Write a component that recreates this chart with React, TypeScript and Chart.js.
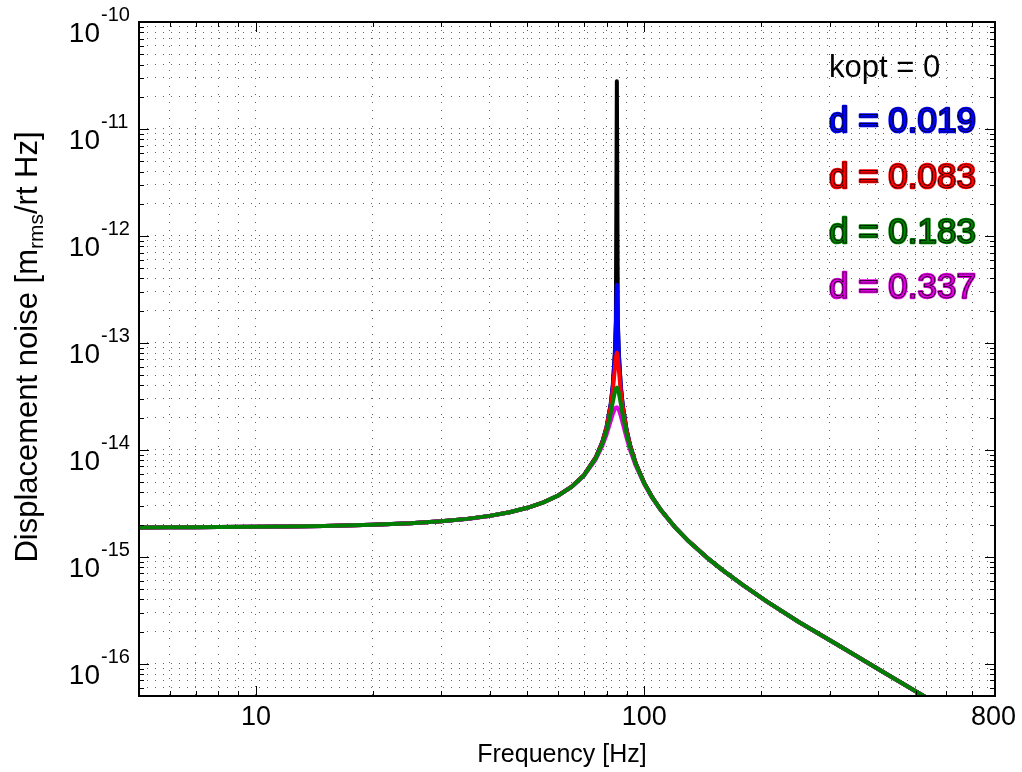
import React, { useEffect, useRef } from 'react';
import { Chart, registerables } from 'chart.js';

Chart.register(...registerables);

// ---- data ----
const frequencies = [5, 6, 7, 8, 10, 12, 15, 20, 25, 30, 35, 40, 45, 50, 55, 60, 65, 70, 75, 78, 80, 82, 83, 84, 84.5, 85, 85.5, 86, 87, 88, 90, 92, 95, 100, 105, 110, 120, 130, 145, 160, 180, 207, 250, 320, 400, 524, 600, 700, 800];

const kopt0 = [1.880e-15, 1.889e-15, 1.893e-15, 1.897e-15, 1.906e-15, 1.918e-15, 1.940e-15, 1.990e-15, 2.058e-15, 2.148e-15, 2.264e-15, 2.415e-15, 2.612e-15, 2.875e-15, 3.234e-15, 3.747e-15, 4.528e-15, 5.842e-15, 8.489e-15, 1.190e-14, 1.646e-14, 2.711e-14, 4.042e-14, 8.038e-14, 1.603e-13, 2.80e-11, 1.593e-13, 7.942e-14, 3.949e-14, 2.617e-14, 1.552e-14, 1.096e-14, 7.546e-15, 4.895e-15, 3.574e-15, 2.786e-15, 1.893e-15, 1.404e-15, 9.84e-16, 7.39e-16, 5.40e-16, 3.81e-16, 2.46e-16, 1.45e-16, 8.95e-17, 5.0e-17, 3.85e-17, 2.81e-17, 2.15e-17];

const d0019 = [1.880e-15, 1.889e-15, 1.893e-15, 1.897e-15, 1.906e-15, 1.918e-15, 1.940e-15, 1.990e-15, 2.058e-15, 2.148e-15, 2.264e-15, 2.415e-15, 2.612e-15, 2.875e-15, 3.234e-15, 3.747e-15, 4.528e-15, 5.842e-15, 8.489e-15, 1.190e-14, 1.646e-14, 2.710e-14, 4.017e-14, 7.84e-14, 1.46e-13, 3.50e-13, 1.45e-13, 7.75e-14, 3.92e-14, 2.615e-14, 1.552e-14, 1.096e-14, 7.546e-15, 4.895e-15, 3.574e-15, 2.786e-15, 1.893e-15, 1.404e-15, 9.84e-16, 7.39e-16, 5.40e-16, 3.81e-16, 2.46e-16, 1.45e-16, 8.95e-17, 5.0e-17, 3.85e-17, 2.81e-17, 2.15e-17];

const d0083 = [1.880e-15, 1.889e-15, 1.893e-15, 1.897e-15, 1.906e-15, 1.918e-15, 1.940e-15, 1.990e-15, 2.058e-15, 2.148e-15, 2.264e-15, 2.415e-15, 2.612e-15, 2.875e-15, 3.233e-15, 3.745e-15, 4.525e-15, 5.83e-15, 8.45e-15, 1.180e-14, 1.62e-14, 2.58e-14, 3.63e-14, 5.73e-14, 7.25e-14, 8.08e-14, 7.18e-14, 5.63e-14, 3.53e-14, 2.48e-14, 1.52e-14, 1.085e-14, 7.51e-15, 4.88e-15, 3.57e-15, 2.784e-15, 1.893e-15, 1.404e-15, 9.84e-16, 7.39e-16, 5.40e-16, 3.81e-16, 2.46e-16, 1.45e-16, 8.95e-17, 5.0e-17, 3.85e-17, 2.81e-17, 2.15e-17];

const d0183 = [1.880e-15, 1.889e-15, 1.893e-15, 1.897e-15, 1.906e-15, 1.918e-15, 1.940e-15, 1.990e-15, 2.058e-15, 2.148e-15, 2.264e-15, 2.415e-15, 2.612e-15, 2.875e-15, 3.230e-15, 3.738e-15, 4.51e-15, 5.80e-15, 8.33e-15, 1.144e-14, 1.525e-14, 2.236e-14, 2.81e-14, 3.48e-14, 3.73e-14, 3.82e-14, 3.69e-14, 3.41e-14, 2.71e-14, 2.134e-14, 1.426e-14, 1.047e-14, 7.37e-15, 4.84e-15, 3.55e-15, 2.774e-15, 1.889e-15, 1.402e-15, 9.83e-16, 7.39e-16, 5.40e-16, 3.81e-16, 2.46e-16, 1.45e-16, 8.95e-17, 5.0e-17, 3.85e-17, 2.81e-17, 2.15e-17];

const d0337 = [1.880e-15, 1.889e-15, 1.893e-15, 1.897e-15, 1.906e-15, 1.918e-15, 1.940e-15, 1.990e-15, 2.058e-15, 2.147e-15, 2.263e-15, 2.413e-15, 2.609e-15, 2.870e-15, 3.223e-15, 3.73e-15, 4.49e-15, 5.74e-15, 8.13e-15, 1.091e-14, 1.40e-14, 1.873e-14, 2.163e-14, 2.41e-14, 2.48e-14, 2.50e-14, 2.456e-14, 2.36e-14, 2.077e-14, 1.775e-14, 1.297e-14, 9.90e-15, 7.15e-15, 4.77e-15, 3.52e-15, 2.758e-15, 1.882e-15, 1.399e-15, 9.81e-16, 7.38e-16, 5.39e-16, 3.81e-16, 2.46e-16, 1.45e-16, 8.95e-17, 5.0e-17, 3.85e-17, 2.81e-17, 2.15e-17];

const seriesLabels = ['kopt = 0', 'd = 0.019', 'd = 0.083', 'd = 0.183', 'd = 0.337'];
const seriesColors = ['#000000', '#0000ff', '#ff0000', '#008000', '#e000e0'];

const xMin = 5;
const xMax = 800;
const yMin = 5e-17;
const yMax = 1e-10;

const xTickValues = [10, 100, 800];
const xTickLabels = ['10', '100', '800'];
const yTickValues = [1e-10, 1e-11, 1e-12, 1e-13, 1e-14, 1e-15, 1e-16];
const yTickExponents = ['-10', '-11', '-12', '-13', '-14', '-15', '-16'];

const xTitle = 'Frequency [Hz]';
const yTitleParts = ['Displacement noise [m', 'rms', '/rt Hz]'];

const FONT = '"Liberation Sans", Arial, Helvetica, sans-serif';

function logGrid(min: number, max: number): number[] {
  const out: number[] = [];
  const e0 = Math.floor(Math.log10(min));
  const e1 = Math.ceil(Math.log10(max));
  for (let e = e0; e <= e1; e++) {
    for (let m = 1; m <= 9; m++) {
      const v = parseFloat((m * Math.pow(10, e)).toPrecision(6));
      if (v > min * 1.0001 && v < max * 0.9999) out.push(v);
    }
  }
  return out;
}

const xGrid = logGrid(xMin, xMax);
const yGrid = logGrid(yMin, yMax);
const isDecade = (v: number) => Math.abs(Math.log10(v) - Math.round(Math.log10(v))) < 1e-6;

const decorPlugin = {
  id: 'decor',
  afterDatasetsDraw(chart: any) {
    const { ctx, chartArea: a, scales } = chart;
    const xs = scales.x;
    const ys = scales.y;
    ctx.save();
    // inward tick marks on all four sides
    ctx.strokeStyle = '#000';
    ctx.lineWidth = 1;
    ctx.beginPath();
    for (const v of xGrid) {
      const px = Math.round(xs.getPixelForValue(v)) + 0.5;
      const len = isDecade(v) ? 10 : 5;
      ctx.moveTo(px, a.bottom);
      ctx.lineTo(px, a.bottom - len);
      ctx.moveTo(px, a.top);
      ctx.lineTo(px, a.top + len);
    }
    for (const v of yGrid) {
      const py = Math.round(ys.getPixelForValue(v)) + 0.5;
      const len = isDecade(v) ? 10 : 5;
      ctx.moveTo(a.left, py);
      ctx.lineTo(a.left + len, py);
      ctx.moveTo(a.right, py);
      ctx.lineTo(a.right - len, py);
    }
    ctx.stroke();
    // box
    ctx.lineWidth = 2;
    ctx.strokeRect(a.left, a.top, a.right - a.left, a.bottom - a.top);

    // x tick labels
    ctx.fillStyle = '#000';
    ctx.font = `27px ${FONT}`;
    ctx.textAlign = 'center';
    ctx.textBaseline = 'alphabetic';
    xTickValues.forEach((v, i) => {
      const px = xs.getPixelForValue(v);
      let tx = px;
      const w = ctx.measureText(xTickLabels[i]).width;
      if (tx + w / 2 > chart.width - 6) tx = chart.width - 6 - w / 2;
      ctx.fillText(xTickLabels[i], tx, a.bottom + 29);
    });

    // y tick labels with superscripts
    yTickValues.forEach((v, i) => {
      const py = ys.getPixelForValue(v);
      ctx.font = `28px ${FONT}`;
      ctx.textAlign = 'right';
      ctx.fillText('10', 100, py + 20);
      ctx.font = `20px ${FONT}`;
      ctx.textAlign = 'left';
      ctx.fillText(yTickExponents[i], 101, py - 1);
    });

    // x title
    ctx.font = `25px ${FONT}`;
    ctx.textAlign = 'center';
    ctx.fillText(xTitle, 562, 762);

    // y title (rotated, with subscript)
    ctx.save();
    ctx.translate(37, 347);
    ctx.rotate(-Math.PI / 2);
    ctx.textAlign = 'left';
    const big = `31px ${FONT}`;
    const small = `21px ${FONT}`;
    ctx.font = big;
    const w0 = ctx.measureText(yTitleParts[0]).width;
    const w2 = ctx.measureText(yTitleParts[2]).width;
    ctx.font = small;
    const w1 = ctx.measureText(yTitleParts[1]).width;
    const total = w0 + w1 + w2;
    let cx = -total / 2;
    ctx.font = big;
    ctx.fillText(yTitleParts[0], cx, 0);
    cx += w0;
    ctx.font = small;
    ctx.fillText(yTitleParts[1], cx, 6);
    cx += w1;
    ctx.font = big;
    ctx.fillText(yTitleParts[2], cx, 0);
    ctx.restore();

    // in-plot legend text
    ctx.textAlign = 'left';
    ctx.font = `31px ${FONT}`;
    ctx.fillStyle = '#000';
    ctx.fillText(seriesLabels[0], 829, 77);
    const baselines = [132, 188, 243, 298];
    ctx.font = `35px ${FONT}`;
    ctx.lineJoin = 'round';
    for (let i = 1; i < seriesLabels.length; i++) {
      const yb = baselines[i - 1];
      ctx.strokeStyle = seriesColors[i];
      ctx.lineWidth = 2.5;
      ctx.strokeText(seriesLabels[i], 829, yb);
      ctx.fillStyle = seriesColors[i];
      ctx.fillText(seriesLabels[i], 829, yb);
      ctx.strokeStyle = '#000';
      ctx.lineWidth = 0.7;
      ctx.strokeText(seriesLabels[i], 829, yb);
    }
    ctx.restore();
  },
};

export default function App() {
  const canvasRef = useRef<HTMLCanvasElement | null>(null);

  useEffect(() => {
    const canvas = canvasRef.current;
    if (!canvas) return;
    const allSeries = [kopt0, d0019, d0083, d0183, d0337];
    const drawOrder = [4, 3, 2, 0, 1]; // green on top, then magenta, red, blue, black
    const datasets = allSeries.map((vals, i) => ({
      label: seriesLabels[i],
      data: frequencies.map((f, j) => ({ x: f, y: vals[j] })),
      borderColor: seriesColors[i],
      backgroundColor: seriesColors[i],
      borderWidth: 4,
      pointRadius: 0,
      tension: 0,
      fill: false,
      borderJoinStyle: 'round' as const,
      borderCapStyle: 'round' as const,
      order: drawOrder[i],
    }));

    const gridScale = (values: number[], isX: boolean) => ({
      type: 'logarithmic' as const,
      min: isX ? xMin : yMin,
      max: isX ? xMax : yMax,
      position: isX ? 'bottom' : 'left',
      ticks: { display: false, autoSkip: false },
      grid: {
        display: true,
        drawTicks: false,
        color: 'rgba(0,0,0,0.6)',
        lineWidth: 1,
      },
      border: { display: false, dash: [1, 7] },
      afterBuildTicks: (scale: any) => {
        scale.ticks = values.map((v) => ({ value: v }));
      },
      afterFit: (scale: any) => {
        if (isX) scale.height = 0;
        else scale.width = 0;
      },
    });

    const chart = new Chart(canvas, {
      type: 'line',
      data: { datasets },
      options: {
        animation: false,
        responsive: false,
        devicePixelRatio: 1,
        parsing: true,
        layout: { padding: { left: 139, right: 27, top: 22, bottom: 76 } },
        plugins: {
          legend: { display: false },
          tooltip: { enabled: false },
          title: { display: false },
        },
        scales: {
          x: gridScale(xGrid, true),
          y: gridScale(yGrid, false),
        },
      } as any,
      plugins: [decorPlugin],
    });
    return () => chart.destroy();
  }, []);

  return (
    <div style={{ position: 'fixed', left: 0, top: 0, width: 1022, height: 772, background: '#fff' }}>
      <canvas ref={canvasRef} width={1022} height={772} style={{ width: 1022, height: 772, display: 'block' }} />
    </div>
  );
}
